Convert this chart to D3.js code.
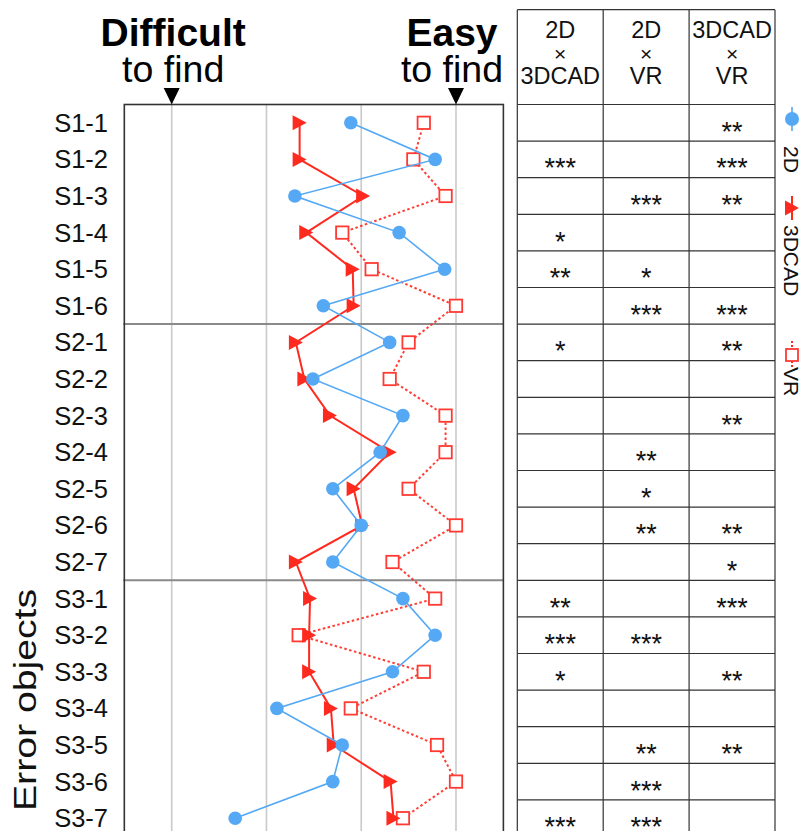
<!DOCTYPE html>
<html>
<head>
<meta charset="utf-8">
<script src="https://cdn.jsdelivr.net/npm/d3@7"></script>
<style>
  html, body { margin: 0; padding: 0; background: #fff; }
  svg { display: block; font-family: "Liberation Sans", Arial, Helvetica, sans-serif; }
</style>
</head>
<body>
<svg id="chart" width="804" height="831"></svg>
<script>
// Error objects, grouped by session
const objects = [
  "S1-1", "S1-2", "S1-3", "S1-4", "S1-5", "S1-6",
  "S2-1", "S2-2", "S2-3", "S2-4", "S2-5", "S2-6", "S2-7",
  "S3-1", "S3-2", "S3-3", "S3-4", "S3-5", "S3-6", "S3-7"
];
// Rows where a new session starts
const sessionStarts = ["S2-1", "S3-1"];

// Mean findability score per condition (1 = difficult, 4 = easy)
const score2D = [
  2.89, 3.78, 2.30, 3.40, 3.88, 2.60,
  3.30, 2.49, 3.44, 3.20, 2.70, 3.00, 2.70,
  3.44, 3.78, 3.33, 2.11, 2.80, 2.70, 1.67
];
const score3DCAD = [
  2.35, 2.35, 3.02, 2.42, 2.91, 2.92,
  2.31, 2.40, 2.67, 3.30, 2.92, 3.01, 2.31,
  2.46, 2.45, 2.45, 2.68, 2.71, 3.31, 3.34
];
const scoreVR = [
  3.66, 3.55, 3.89, 2.80, 3.11, 4.00,
  3.50, 3.30, 3.89, 3.89, 3.50, 4.00, 3.33,
  3.78, 2.34, 3.66, 2.89, 3.80, 4.00, 3.44
];

// Pairwise comparison columns and significance marks per object
const comparisons = [["2D", "3DCAD"], ["2D", "VR"], ["3DCAD", "VR"]];
const sig2Dx3DCAD = [
  "", "***", "", "*", "**", "",
  "*", "", "", "", "", "", "",
  "**", "***", "*", "", "", "", "***"
];
const sig2DxVR = [
  "", "", "***", "", "*", "***",
  "", "", "", "**", "*", "**", "",
  "", "***", "", "", "**", "***", "***"
];
const sig3DCADxVR = [
  "**", "***", "**", "", "", "***",
  "**", "", "**", "", "", "**", "*",
  "***", "", "**", "", "**", "", ""
];

const scaleTicks = [1, 2, 3, 4];
const endLabels = [
  { value: 1, head: "Difficult", sub: "to find", dx: 1.5 },
  { value: 4, head: "Easy", sub: "to find", dx: -4 }
];

const BLUE = "#55a9f4";
const RED = "#ff2a1f";

const svg = d3.select("#chart");

// ---- scales ----
const plotTop = 104.5;
const band = 36.6;
const y = d3.scaleBand().domain(objects).range([plotTop, plotTop + band * objects.length]);
const yc = d => y(d) + y.bandwidth() / 2;
const x = d3.scaleLinear().domain([1, 4]).range([171.7, 456]);
const plotLeft = x(0.5), plotRight = x(4.5);

// table columns
const tableX = d3.scaleBand().domain(d3.range(comparisons.length)).range([517.3, 775]);
const tableTop = 9.7;

const plot = svg.append("g");

// grid lines
plot.selectAll("line.grid").data(scaleTicks).join("line")
  .attr("class", "grid")
  .attr("x1", d => x(d)).attr("x2", d => x(d))
  .attr("y1", plotTop).attr("y2", 831 + 10)
  .attr("stroke", "#c9c9c9").attr("stroke-width", 1.6);

// session separators
plot.selectAll("line.sep").data(sessionStarts).join("line")
  .attr("class", "sep")
  .attr("x1", plotLeft - 1).attr("x2", plotRight)
  .attr("y1", d => y(d)).attr("y2", d => y(d))
  .attr("stroke", "#8a8a8a").attr("stroke-width", 2);

// frame
plot.append("rect")
  .attr("x", plotLeft).attr("y", plotTop)
  .attr("width", plotRight - plotLeft).attr("height", band * objects.length)
  .attr("fill", "none").attr("stroke", "#333").attr("stroke-width", 1.6);

// header labels and arrows
endLabels.forEach(e => {
  const cx = x(e.value) + e.dx;
  svg.append("text").attr("x", cx).attr("y", 46)
    .attr("text-anchor", "middle").attr("font-size", 39).attr("font-weight", "bold")
    .attr("fill", "#000").text(e.head);
  svg.append("text").attr("x", cx).attr("y", 82)
    .attr("text-anchor", "middle").attr("font-size", 37.5)
    .attr("fill", "#000").text(e.sub);
  const ax = x(e.value);
  svg.append("path")
    .attr("d", `M${ax - 8},88 L${ax + 8},88 L${ax},${plotTop} Z`)
    .attr("fill", "#000");
});

// row labels
svg.append("g").selectAll("text").data(objects).join("text")
  .attr("x", 108).attr("y", d => yc(d) + 9)
  .attr("text-anchor", "end").attr("font-size", 25.5).attr("fill", "#111")
  .text(d => d);

// axis title
svg.append("text")
  .attr("transform", "translate(36,811) rotate(-90)")
  .attr("font-size", 31).attr("fill", "#111")
  .attr("textLength", 222).attr("lengthAdjust", "spacingAndGlyphs")
  .text("Error objects");

// ---- series ----
const rows = objects.map((o, i) => ({ o, d2: score2D[i], cad: score3DCAD[i], vr: scoreVR[i] }));
const line = key => d3.line().x(d => x(d[key])).y(d => yc(d.o));
const triPath = "M-7,-7.5L7,0L-7,7.5Z";

// VR
plot.append("path").datum(rows).attr("d", line("vr"))
  .attr("fill", "none").attr("stroke", RED).attr("stroke-width", 2)
  .attr("stroke-dasharray", "2.5,2.5").attr("opacity", 0.9);
plot.selectAll("rect.vr").data(rows).join("rect")
  .attr("class", "vr")
  .attr("x", d => x(d.vr) - 6.2).attr("y", d => yc(d.o) - 6.2)
  .attr("width", 12.4).attr("height", 12.4)
  .attr("fill", "#fff").attr("stroke", "#ff3a33").attr("stroke-width", 1.8);

// 3DCAD
plot.append("path").datum(rows).attr("d", line("cad"))
  .attr("fill", "none").attr("stroke", RED).attr("stroke-width", 2);
plot.selectAll("path.cad").data(rows).join("path")
  .attr("class", "cad")
  .attr("transform", d => `translate(${x(d.cad)},${yc(d.o)})`)
  .attr("d", triPath).attr("fill", RED);

// 2D
plot.append("path").datum(rows).attr("d", line("d2"))
  .attr("fill", "none").attr("stroke", BLUE).attr("stroke-width", 1.6);
plot.selectAll("circle.d2").data(rows).join("circle")
  .attr("class", "d2")
  .attr("cx", d => x(d.d2)).attr("cy", d => yc(d.o)).attr("r", 6.8)
  .attr("fill", BLUE);

// ---- significance table ----
const table = svg.append("g");
const tableBottom = 831 + 10;
const colEdges = d3.range(comparisons.length).map(i => tableX(i)).concat([tableX.range()[1]]);
table.selectAll("line.col").data(colEdges).join("line")
  .attr("class", "col")
  .attr("x1", d => d).attr("x2", d => d)
  .attr("y1", tableTop).attr("y2", tableBottom)
  .attr("stroke", "#333").attr("stroke-width", 1.2);
const rowEdges = [tableTop, plotTop].concat(objects.map(o => y(o) + band));
table.selectAll("line.row").data(rowEdges).join("line")
  .attr("class", "row")
  .attr("x1", colEdges[0]).attr("x2", colEdges[colEdges.length - 1])
  .attr("y1", d => d).attr("y2", d => d)
  .attr("stroke", "#333").attr("stroke-width", 1.2);

comparisons.forEach((pair, i) => {
  const cx = tableX(i) + tableX.bandwidth() / 2;
  table.append("text").attr("x", cx).attr("y", 38).attr("text-anchor", "middle")
    .attr("font-size", 23.5).attr("fill", "#111").text(pair[0]);
  table.append("text").attr("x", cx).attr("y", 60.5).attr("text-anchor", "middle")
    .attr("font-size", 21).attr("fill", "#111").text("×");
  table.append("text").attr("x", cx).attr("y", 83.5).attr("text-anchor", "middle")
    .attr("font-size", 23.5).attr("fill", "#111").text(pair[1]);
});

const sigCols = [sig2Dx3DCAD, sig2DxVR, sig3DCADxVR];
sigCols.forEach((col, i) => {
  const cx = tableX(i) + tableX.bandwidth() / 2;
  table.append("g").selectAll("text").data(col).join("text")
    .attr("x", cx).attr("y", (d, j) => yc(objects[j]) + 18)
    .attr("text-anchor", "middle").attr("font-size", 27).attr("fill", "#111")
    .text(d => d);
});

// ---- legend (vertical, rotated) ----
const legend = svg.append("g");
const lx = 792;
// 2D
legend.append("line").attr("x1", lx).attr("x2", lx).attr("y1", 107).attr("y2", 131)
  .attr("stroke", BLUE).attr("stroke-width", 1.6);
legend.append("circle").attr("cx", lx).attr("cy", 119).attr("r", 7).attr("fill", BLUE);
// 3DCAD
legend.append("line").attr("x1", lx).attr("x2", lx).attr("y1", 196).attr("y2", 220)
  .attr("stroke", RED).attr("stroke-width", 2);
legend.append("path").attr("transform", `translate(${lx},208)`).attr("d", triPath).attr("fill", RED);
// VR
legend.append("line").attr("x1", lx).attr("x2", lx).attr("y1", 341).attr("y2", 369)
  .attr("stroke", RED).attr("stroke-width", 2).attr("stroke-dasharray", "2,2");
legend.append("rect").attr("x", lx - 6).attr("y", 349).attr("width", 12).attr("height", 12)
  .attr("fill", "#fff").attr("stroke", "#ff3a33").attr("stroke-width", 1.8);

const legendLabels = [
  { text: "2D", y: 146 },
  { text: "3DCAD", y: 225 },
  { text: "VR", y: 367 }
];
legend.selectAll("text").data(legendLabels).join("text")
  .attr("transform", d => `translate(784,${d.y}) rotate(90)`)
  .attr("font-size", 21).attr("fill", "#111")
  .text(d => d.text);
</script>
</body>
</html>
